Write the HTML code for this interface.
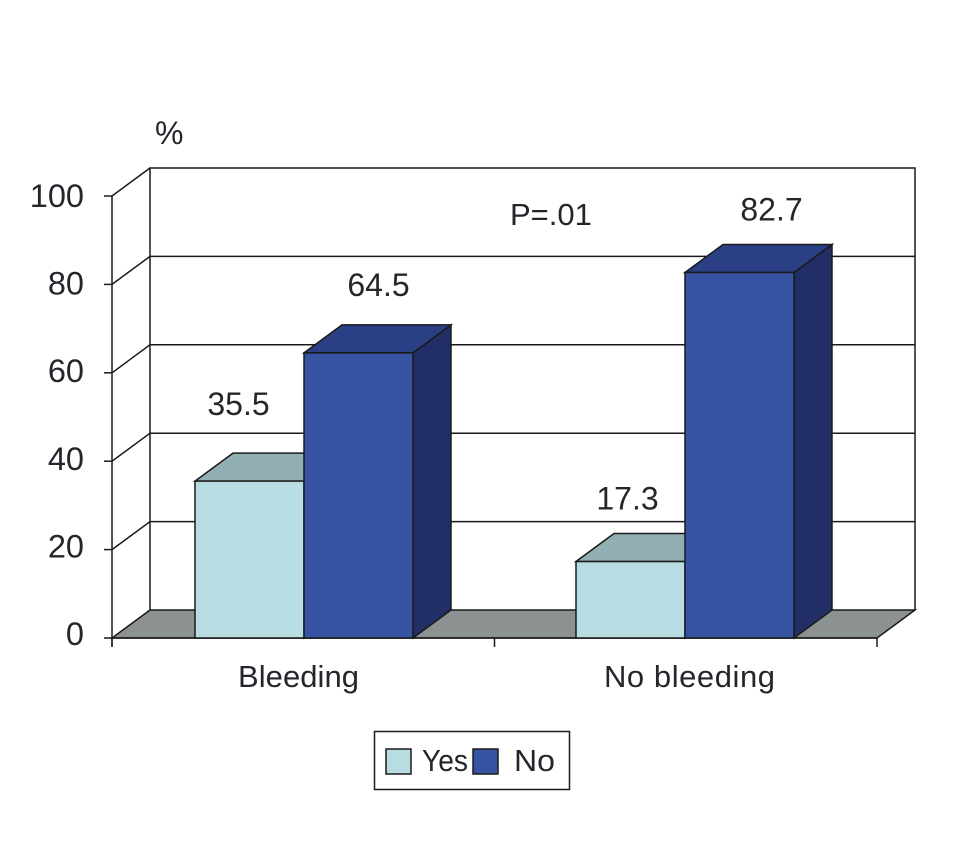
<!DOCTYPE html>
<html lang="en">
<head>
<meta charset="utf-8">
<title>Bleeding chart</title>
<style>
html,body{margin:0;padding:0;background:#fff;}
svg{display:block;}
text{font-family:"Liberation Sans",sans-serif;fill:#23272b;font-size:31px;}
</style>
</head>
<body>
<svg id="chart" xmlns="http://www.w3.org/2000/svg" width="976" height="862" viewBox="0 0 976 862"></svg>
<script>
const categories = ['Bleeding', 'No bleeding'];
const seriesNames = ['Yes', 'No'];
const yesValues = [35.5, 17.3];
const noValues = [64.5, 82.7];
const valueLabels = [['35.5', '17.3'], ['64.5', '82.7']];
const yTicks = [0, 20, 40, 60, 80, 100];

const svg = document.getElementById('chart');
const NS = 'http://www.w3.org/2000/svg';
const X0 = 112, X1 = 877, Y0 = 638, YTOP = 196, DX = 38, DY = -28;
const colors = [
  {front: '#b7dde2', top: '#92afb4', side: '#7f9da2'},
  {front: '#3753a4', top: '#2b3f86', side: '#222f66'}
];
function yScale(v) { return Y0 - (v / 100) * (Y0 - YTOP); }
function groupLeft(i) { return X0 + 83 + i * ((X1 - X0) / categories.length - 1.5); }
const BAR_W = 109;

function add(tag, attrs, text) {
  const el = document.createElementNS(NS, tag);
  for (const k in attrs) el.setAttribute(k, attrs[k]);
  if (text !== undefined) el.textContent = text;
  svg.appendChild(el);
  return el;
}
function pts(a) { return a.map(p => p.join(',')).join(' '); }
const stroke = {stroke: '#1a1a1a', 'stroke-width': 1.5};

/* floor */
let el = add('polygon', {points: pts([[X0, Y0], [X1, Y0], [X1 + DX, Y0 + DY], [X0 + DX, Y0 + DY]]), fill: '#8c9192', ...stroke});



/* walls */
el = add('polyline', {points: pts([[X0 + DX, Y0 + DY], [X0 + DX, YTOP + DY], [X1 + DX, YTOP + DY], [X1 + DX, Y0 + DY]]), fill: 'none', ...stroke});



/* grid + y axis */
yTicks.forEach(t => {
  const y = yScale(t);
  if (t > 0 && t < 100) {
    const g = add('polyline', {points: pts([[X0, y], [X0 + DX, y + DY], [X1 + DX, y + DY]]), fill: 'none', ...stroke});
    
    
  }
  if (t === 100) {
    const g = add('line', {x1: X0, y1: y, x2: X0 + DX, y2: y + DY, ...stroke});
    
    
  }
  const tk = add('line', {x1: X0 - 8, y1: y, x2: X0, y2: y, ...stroke});
  
  
  const lb = add('text', {x: 84, y: y + 7 + t * 0.04, 'text-anchor': 'end', style: 'font-size:32.5px'}, String(t));
  
  
});
el = add('line', {x1: X0, y1: YTOP, x2: X0, y2: Y0 + 8, ...stroke});


el = add('line', {x1: X0, y1: Y0, x2: X1, y2: Y0, ...stroke});


for (let i = 0; i <= categories.length; i++) {
  const x = X0 + i * (X1 - X0) / categories.length;
  const tk = add('line', {x1: x, y1: Y0, x2: x, y2: Y0 + 9, ...stroke});
  
  
}

/* bars */
function drawBar(v, x, c, name) {
  const y = yScale(v), w = BAR_W;
  const side = add('polygon', {points: pts([[x + w, y], [x + w + DX, y + DY], [x + w + DX, Y0 + DY], [x + w, Y0]]), fill: c.side, ...stroke});
  
  
  const top = add('polygon', {points: pts([[x, y], [x + DX, y + DY], [x + w + DX, y + DY], [x + w, y]]), fill: c.top, ...stroke});
  
  
  const front = add('rect', {x: x, y: y, width: w, height: Y0 - y, fill: c.front, ...stroke});
  
  
}
function drawCategoryLabels() {
  const centers = [298.5, 689.5];
  const widths = [121, 171];
  categories.forEach((c, i) => {
    const lb = add('text', {x: centers[i], y: 687, 'text-anchor': 'middle', textLength: widths[i], lengthAdjust: 'spacing'}, c);
    
    
  });
}
categories.forEach((c, i) => {
  const left = groupLeft(i);
  drawBar(yesValues[i], left, colors[0], 'bar-yes-' + i);
  drawBar(noValues[i], left + BAR_W, colors[1], 'bar-no-' + i);
});
drawCategoryLabels();

/* value labels */
function drawValueLabels() {
  const nudgeX = [[-11, -3], [20, 32]];
  const nudgeY = [[66, 52], [57, 52]];
  [yesValues, noValues].forEach((vals, s) => {
    vals.forEach((v, i) => {
      const cx = groupLeft(i) + BAR_W * s + BAR_W / 2 + nudgeX[s][i];
      const lb = add('text', {x: cx, y: yScale(v) - nudgeY[s][i], 'text-anchor': 'middle', style: 'font-size:32px'}, valueLabels[s][i]);
      
      
    });
  });
}
drawValueLabels();

/* annotations */
el = add('text', {x: 155, y: 144, style: 'font-size:32px'}, '%');


el = add('text', {x: 510, y: 225}, 'P=.01');



/* legend */
el = add('rect', {x: 374.5, y: 731.5, width: 195, height: 58, fill: '#fff', ...stroke});


function drawLegend() {
  const textX = [422, 514];
  const textW = [46, 41];
  seriesNames.forEach((n, s) => {
    const sx = 386 + s * 87;
    const sw = add('rect', {x: sx, y: 749, width: 25, height: 25, fill: colors[s].front, ...stroke});
    
    
    const tx = add('text', {x: textX[s], y: 771, textLength: textW[s], lengthAdjust: 'spacingAndGlyphs'}, n);
    
    
  });
}
drawLegend();
</script>
</body>
</html>
